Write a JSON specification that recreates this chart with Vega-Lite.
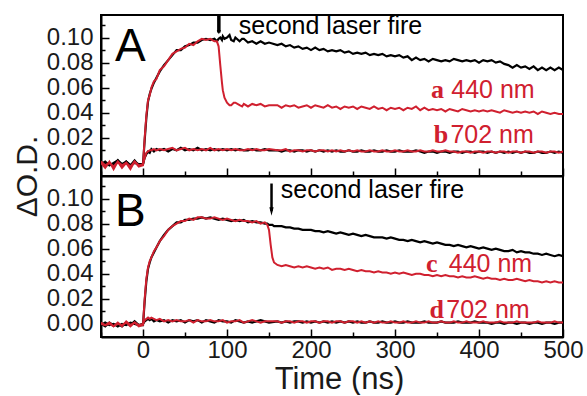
{
  "$schema": "https://vega.github.io/schema/vega-lite/v6.json",
  "padding": {"left": 11, "top": 12, "right": 0, "bottom": 0},
  "background": "white",
  "spacing": 0,
  "bounds": "flush",
  "config": {
    "view": {"stroke": "black", "strokeWidth": 2},
    "font": "Liberation Sans",
    "axis": {"domainColor": "black", "domainWidth": 2, "tickColor": "black", "tickWidth": 1.5, "labelFont": "Liberation Sans", "labelFontSize": 24, "labelColor": "#1a1a1a", "titleFont": "Liberation Sans", "titleFontSize": 30, "titleFontWeight": "normal", "titleColor": "#1a1a1a", "grid": false}
  },
  "datasets": {
    "traces": [
      {"t": -50, "a1": 0.001, "a2": 0.000, "a3": -0.001, "a4": 0.001, "b1": 0.000, "b2": 0.001, "b3": -0.001, "b4": 0.000},
      {"t": -45, "a1": -0.003, "a2": -0.004, "a3": 0.001, "a4": -0.002, "b1": -0.002, "b2": -0.001, "b3": 0.001, "b4": -0.001},
      {"t": -40, "a1": 0.000, "a2": 0.001, "a3": -0.002, "a4": 0.000, "b1": 0.001, "b2": 0.000, "b3": -0.001, "b4": 0.001},
      {"t": -35, "a1": -0.002, "a2": -0.005, "a3": 0.000, "a4": -0.003, "b1": -0.001, "b2": -0.002, "b3": 0.000, "b4": -0.002},
      {"t": -30, "a1": 0.002, "a2": 0.001, "a3": 0.002, "a4": 0.001, "b1": 0.000, "b2": 0.001, "b3": -0.002, "b4": 0.000},
      {"t": -25, "a1": -0.003, "a2": -0.004, "a3": -0.001, "a4": -0.002, "b1": -0.002, "b2": -0.002, "b3": 0.000, "b4": -0.001},
      {"t": -20, "a1": 0.001, "a2": 0.000, "a3": 0.001, "a4": 0.000, "b1": 0.001, "b2": 0.002, "b3": -0.001, "b4": 0.001},
      {"t": -15, "a1": -0.002, "a2": -0.005, "a3": -0.002, "a4": -0.003, "b1": -0.001, "b2": -0.001, "b3": 0.001, "b4": -0.002},
      {"t": -10, "a1": 0.002, "a2": 0.001, "a3": 0.000, "a4": 0.001, "b1": 0.002, "b2": 0.001, "b3": 0.000, "b4": 0.001},
      {"t": -5, "a1": -0.002, "a2": -0.003, "a3": -0.001, "a4": -0.002, "b1": -0.001, "b2": -0.002, "b3": -0.001, "b4": -0.001},
      {"t": 0, "a1": -0.001, "a2": -0.002, "a3": -0.001, "a4": -0.001, "b1": -0.001, "b2": -0.001, "b3": 0.000, "b4": 0.000},
      {"t": 2, "a1": 0.018, "a2": 0.020, "a3": 0.004, "a4": 0.004, "b1": 0.018, "b2": 0.020, "b3": 0.002, "b4": 0.003},
      {"t": 4, "a1": 0.036, "a2": 0.038, "a3": 0.007, "a4": 0.008, "b1": 0.034, "b2": 0.036, "b3": 0.003, "b4": 0.004},
      {"t": 6, "a1": 0.049, "a2": 0.050, "a3": 0.009, "a4": 0.009, "b1": 0.044, "b2": 0.045, "b3": 0.004, "b4": 0.005},
      {"t": 8, "a1": 0.055, "a2": 0.054, "a3": 0.008, "a4": 0.010, "b1": 0.049, "b2": 0.050, "b3": 0.003, "b4": 0.004},
      {"t": 10, "a1": 0.059, "a2": 0.060, "a3": 0.011, "a4": 0.010, "b1": 0.053, "b2": 0.053, "b3": 0.004, "b4": 0.005},
      {"t": 13, "a1": 0.064, "a2": 0.065, "a3": 0.009, "a4": 0.011, "b1": 0.057, "b2": 0.058, "b3": 0.002, "b4": 0.004},
      {"t": 16, "a1": 0.068, "a2": 0.067, "a3": 0.011, "a4": 0.010, "b1": 0.061, "b2": 0.061, "b3": 0.003, "b4": 0.003},
      {"t": 20, "a1": 0.073, "a2": 0.074, "a3": 0.010, "a4": 0.011, "b1": 0.066, "b2": 0.066, "b3": 0.002, "b4": 0.004},
      {"t": 25, "a1": 0.078, "a2": 0.077, "a3": 0.011, "a4": 0.010, "b1": 0.071, "b2": 0.070, "b3": 0.003, "b4": 0.002},
      {"t": 30, "a1": 0.082, "a2": 0.082, "a3": 0.009, "a4": 0.011, "b1": 0.075, "b2": 0.075, "b3": 0.001, "b4": 0.003},
      {"t": 35, "a1": 0.086, "a2": 0.087, "a3": 0.011, "a4": 0.012, "b1": 0.078, "b2": 0.078, "b3": 0.003, "b4": 0.002},
      {"t": 40, "a1": 0.090, "a2": 0.089, "a3": 0.010, "a4": 0.010, "b1": 0.081, "b2": 0.080, "b3": 0.002, "b4": 0.003},
      {"t": 45, "a1": 0.090, "a2": 0.091, "a3": 0.012, "a4": 0.011, "b1": 0.081, "b2": 0.082, "b3": 0.003, "b4": 0.002},
      {"t": 50, "a1": 0.093, "a2": 0.092, "a3": 0.010, "a4": 0.012, "b1": 0.083, "b2": 0.082, "b3": 0.001, "b4": 0.002},
      {"t": 55, "a1": 0.094, "a2": 0.095, "a3": 0.011, "a4": 0.010, "b1": 0.083, "b2": 0.084, "b3": 0.003, "b4": 0.003},
      {"t": 60, "a1": 0.096, "a2": 0.094, "a3": 0.010, "a4": 0.011, "b1": 0.084, "b2": 0.083, "b3": 0.002, "b4": 0.001},
      {"t": 65, "a1": 0.096, "a2": 0.097, "a3": 0.012, "a4": 0.010, "b1": 0.084, "b2": 0.085, "b3": 0.003, "b4": 0.003},
      {"t": 70, "a1": 0.098, "a2": 0.099, "a3": 0.010, "a4": 0.011, "b1": 0.085, "b2": 0.085, "b3": 0.001, "b4": 0.002},
      {"t": 75, "a1": 0.099, "a2": 0.098, "a3": 0.011, "a4": 0.010, "b1": 0.084, "b2": 0.084, "b3": 0.003, "b4": 0.002},
      {"t": 80, "a1": 0.098, "a2": 0.099, "a3": 0.010, "a4": 0.012, "b1": 0.085, "b2": 0.084, "b3": 0.002, "b4": 0.003},
      {"t": 85, "a1": 0.099, "a2": 0.097, "a3": 0.011, "a4": 0.010, "b1": 0.084, "b2": 0.085, "b3": 0.001, "b4": 0.002},
      {"t": 88, "a1": 0.097, "a2": 0.097},
      {"t": 90, "a1": 0.099, "a2": 0.093, "a3": 0.010, "a4": 0.011, "b1": 0.083, "b2": 0.084, "b3": 0.003, "b4": 0.002},
      {"t": 92, "a1": 0.100, "a2": 0.078},
      {"t": 94, "a1": 0.098, "a2": 0.064},
      {"t": 95, "a1": 0.101, "a2": 0.058, "a3": 0.011, "a4": 0.010, "b1": 0.084, "b2": 0.083, "b3": 0.002, "b4": 0.003},
      {"t": 97, "a1": 0.099, "a2": 0.052},
      {"t": 100, "a1": 0.100, "a2": 0.048, "a3": 0.010, "a4": 0.011, "b1": 0.083, "b2": 0.084, "b3": 0.002, "b4": 0.001},
      {"t": 103, "a1": 0.102, "a2": 0.046},
      {"t": 105, "a1": 0.098, "a2": 0.046, "a3": 0.011, "a4": 0.010, "b1": 0.082, "b2": 0.083, "b3": 0.001, "b4": 0.002},
      {"t": 108, "a1": 0.097, "a2": 0.048},
      {"t": 110, "a1": 0.100, "a2": 0.048, "a3": 0.010, "a4": 0.011, "b1": 0.083, "b2": 0.082, "b3": 0.003, "b4": 0.002},
      {"t": 115, "a1": 0.097, "a2": 0.046, "a3": 0.011, "a4": 0.010, "b1": 0.082, "b2": 0.083, "b3": 0.002, "b4": 0.003},
      {"t": 118, "a1": 0.099, "a2": 0.045},
      {"t": 120, "a1": 0.099, "a2": 0.047, "a3": 0.010, "a4": 0.010, "b1": 0.083, "b2": 0.082, "b3": 0.001, "b4": 0.001},
      {"t": 125, "a1": 0.096, "a2": 0.045, "a3": 0.010, "a4": 0.011, "b1": 0.081, "b2": 0.082, "b3": 0.002, "b4": 0.002},
      {"t": 130, "a1": 0.097, "a2": 0.047, "a3": 0.011, "a4": 0.010, "b1": 0.082, "b2": 0.081, "b3": 0.001, "b4": 0.003},
      {"t": 135, "a1": 0.095, "a2": 0.046, "a3": 0.010, "a4": 0.011, "b1": 0.081, "b2": 0.082, "b3": 0.002, "b4": 0.002},
      {"t": 140, "a1": 0.097, "a2": 0.047, "a3": 0.010, "a4": 0.010, "b1": 0.081, "b2": 0.080, "b3": 0.003, "b4": 0.001},
      {"t": 145, "a1": 0.095, "a2": 0.045, "a3": 0.011, "a4": 0.010, "b1": 0.080, "b2": 0.081, "b3": 0.002, "b4": 0.002},
      {"t": 148, "b1": 0.080, "b2": 0.079},
      {"t": 150, "a1": 0.096, "a2": 0.046, "a3": 0.010, "a4": 0.011, "b1": 0.079, "b2": 0.075, "b3": 0.001, "b4": 0.002},
      {"t": 152, "b1": 0.079, "b2": 0.063},
      {"t": 154, "b1": 0.079, "b2": 0.053},
      {"t": 156, "b1": 0.078, "b2": 0.049},
      {"t": 160, "a1": 0.094, "a2": 0.046, "a3": 0.010, "a4": 0.010, "b1": 0.078, "b2": 0.047, "b3": 0.002, "b4": 0.002},
      {"t": 165, "a1": 0.095, "a2": 0.044, "a3": 0.009, "a4": 0.010, "b1": 0.078, "b2": 0.046, "b3": 0.001, "b4": 0.001},
      {"t": 170, "a1": 0.093, "a2": 0.046, "a3": 0.010, "a4": 0.011, "b1": 0.077, "b2": 0.047, "b3": 0.002, "b4": 0.002},
      {"t": 175, "a1": 0.094, "a2": 0.045, "a3": 0.010, "a4": 0.009, "b1": 0.077, "b2": 0.046, "b3": 0.001, "b4": 0.002},
      {"t": 180, "a1": 0.092, "a2": 0.046, "a3": 0.009, "a4": 0.010, "b1": 0.076, "b2": 0.045, "b3": 0.002, "b4": 0.001},
      {"t": 185, "a1": 0.093, "a2": 0.044, "a3": 0.010, "a4": 0.010, "b1": 0.076, "b2": 0.046, "b3": 0.002, "b4": 0.002},
      {"t": 190, "a1": 0.091, "a2": 0.045, "a3": 0.010, "a4": 0.009, "b1": 0.075, "b2": 0.045, "b3": 0.001, "b4": 0.002},
      {"t": 195, "a1": 0.092, "a2": 0.046, "a3": 0.009, "a4": 0.010, "b1": 0.075, "b2": 0.046, "b3": 0.002, "b4": 0.001},
      {"t": 200, "a1": 0.090, "a2": 0.044, "a3": 0.010, "a4": 0.010, "b1": 0.075, "b2": 0.045, "b3": 0.001, "b4": 0.002},
      {"t": 205, "a1": 0.092, "a2": 0.046, "a3": 0.009, "a4": 0.009, "b1": 0.074, "b2": 0.044, "b3": 0.002, "b4": 0.002},
      {"t": 210, "a1": 0.090, "a2": 0.045, "a3": 0.010, "a4": 0.010, "b1": 0.074, "b2": 0.045, "b3": 0.001, "b4": 0.001},
      {"t": 215, "a1": 0.091, "a2": 0.044, "a3": 0.009, "a4": 0.010, "b1": 0.073, "b2": 0.044, "b3": 0.002, "b4": 0.002},
      {"t": 220, "a1": 0.089, "a2": 0.046, "a3": 0.010, "a4": 0.009, "b1": 0.074, "b2": 0.045, "b3": 0.001, "b4": 0.002},
      {"t": 225, "a1": 0.090, "a2": 0.044, "a3": 0.009, "a4": 0.010, "b1": 0.073, "b2": 0.043, "b3": 0.002, "b4": 0.001},
      {"t": 230, "a1": 0.089, "a2": 0.045, "a3": 0.010, "a4": 0.009, "b1": 0.072, "b2": 0.044, "b3": 0.001, "b4": 0.002},
      {"t": 235, "a1": 0.090, "a2": 0.043, "a3": 0.009, "a4": 0.010, "b1": 0.073, "b2": 0.044, "b3": 0.002, "b4": 0.002},
      {"t": 240, "a1": 0.088, "a2": 0.045, "a3": 0.009, "a4": 0.009, "b1": 0.072, "b2": 0.043, "b3": 0.001, "b4": 0.001},
      {"t": 245, "a1": 0.089, "a2": 0.044, "a3": 0.010, "a4": 0.010, "b1": 0.071, "b2": 0.044, "b3": 0.002, "b4": 0.002},
      {"t": 250, "a1": 0.087, "a2": 0.045, "a3": 0.009, "a4": 0.009, "b1": 0.072, "b2": 0.043, "b3": 0.001, "b4": 0.002},
      {"t": 255, "a1": 0.088, "a2": 0.043, "a3": 0.009, "a4": 0.010, "b1": 0.071, "b2": 0.042, "b3": 0.002, "b4": 0.001},
      {"t": 260, "a1": 0.087, "a2": 0.045, "a3": 0.010, "a4": 0.009, "b1": 0.070, "b2": 0.043, "b3": 0.001, "b4": 0.002},
      {"t": 265, "a1": 0.088, "a2": 0.044, "a3": 0.009, "a4": 0.009, "b1": 0.071, "b2": 0.042, "b3": 0.001, "b4": 0.001},
      {"t": 270, "a1": 0.086, "a2": 0.043, "a3": 0.009, "a4": 0.010, "b1": 0.070, "b2": 0.042, "b3": 0.002, "b4": 0.002},
      {"t": 275, "a1": 0.087, "a2": 0.045, "a3": 0.010, "a4": 0.009, "b1": 0.069, "b2": 0.041, "b3": 0.001, "b4": 0.001},
      {"t": 280, "a1": 0.086, "a2": 0.043, "a3": 0.009, "a4": 0.009, "b1": 0.069, "b2": 0.042, "b3": 0.001, "b4": 0.002},
      {"t": 285, "a1": 0.087, "a2": 0.044, "a3": 0.009, "a4": 0.010, "b1": 0.069, "b2": 0.041, "b3": 0.002, "b4": 0.001},
      {"t": 290, "a1": 0.085, "a2": 0.042, "a3": 0.010, "a4": 0.009, "b1": 0.068, "b2": 0.041, "b3": 0.001, "b4": 0.001},
      {"t": 295, "a1": 0.086, "a2": 0.044, "a3": 0.009, "a4": 0.009, "b1": 0.069, "b2": 0.040, "b3": 0.001, "b4": 0.002},
      {"t": 300, "a1": 0.085, "a2": 0.043, "a3": 0.009, "a4": 0.010, "b1": 0.068, "b2": 0.041, "b3": 0.002, "b4": 0.001},
      {"t": 305, "a1": 0.086, "a2": 0.044, "a3": 0.010, "a4": 0.009, "b1": 0.067, "b2": 0.040, "b3": 0.001, "b4": 0.001},
      {"t": 310, "a1": 0.084, "a2": 0.042, "a3": 0.009, "a4": 0.009, "b1": 0.067, "b2": 0.041, "b3": 0.001, "b4": 0.002},
      {"t": 315, "a1": 0.085, "a2": 0.044, "a3": 0.009, "a4": 0.010, "b1": 0.066, "b2": 0.040, "b3": 0.002, "b4": 0.001},
      {"t": 320, "a1": 0.082, "a2": 0.043, "a3": 0.009, "a4": 0.009, "b1": 0.067, "b2": 0.039, "b3": 0.001, "b4": 0.001},
      {"t": 325, "a1": 0.084, "a2": 0.045, "a3": 0.010, "a4": 0.009, "b1": 0.066, "b2": 0.040, "b3": 0.001, "b4": 0.002},
      {"t": 330, "a1": 0.082, "a2": 0.042, "a3": 0.009, "a4": 0.010, "b1": 0.065, "b2": 0.040, "b3": 0.001, "b4": 0.001},
      {"t": 335, "a1": 0.083, "a2": 0.044, "a3": 0.008, "a4": 0.009, "b1": 0.066, "b2": 0.039, "b3": 0.002, "b4": 0.001},
      {"t": 340, "a1": 0.081, "a2": 0.042, "a3": 0.009, "a4": 0.009, "b1": 0.065, "b2": 0.039, "b3": 0.001, "b4": 0.002},
      {"t": 345, "a1": 0.083, "a2": 0.043, "a3": 0.009, "a4": 0.010, "b1": 0.064, "b2": 0.038, "b3": 0.001, "b4": 0.001},
      {"t": 350, "a1": 0.082, "a2": 0.042, "a3": 0.008, "a4": 0.009, "b1": 0.065, "b2": 0.039, "b3": 0.001, "b4": 0.001},
      {"t": 355, "a1": 0.081, "a2": 0.043, "a3": 0.009, "a4": 0.009, "b1": 0.064, "b2": 0.038, "b3": 0.002, "b4": 0.002},
      {"t": 360, "a1": 0.082, "a2": 0.041, "a3": 0.009, "a4": 0.010, "b1": 0.063, "b2": 0.039, "b3": 0.001, "b4": 0.001},
      {"t": 365, "a1": 0.081, "a2": 0.043, "a3": 0.008, "a4": 0.009, "b1": 0.063, "b2": 0.038, "b3": 0.001, "b4": 0.001},
      {"t": 370, "a1": 0.083, "a2": 0.042, "a3": 0.009, "a4": 0.009, "b1": 0.062, "b2": 0.038, "b3": 0.001, "b4": 0.002},
      {"t": 375, "a1": 0.082, "a2": 0.041, "a3": 0.009, "a4": 0.008, "b1": 0.063, "b2": 0.037, "b3": 0.002, "b4": 0.001},
      {"t": 380, "a1": 0.081, "a2": 0.043, "a3": 0.008, "a4": 0.009, "b1": 0.062, "b2": 0.038, "b3": 0.001, "b4": 0.001},
      {"t": 385, "a1": 0.082, "a2": 0.042, "a3": 0.009, "a4": 0.009, "b1": 0.061, "b2": 0.037, "b3": 0.001, "b4": 0.002},
      {"t": 390, "a1": 0.081, "a2": 0.041, "a3": 0.009, "a4": 0.008, "b1": 0.062, "b2": 0.037, "b3": 0.001, "b4": 0.001},
      {"t": 395, "a1": 0.082, "a2": 0.042, "a3": 0.008, "a4": 0.009, "b1": 0.061, "b2": 0.038, "b3": 0.002, "b4": 0.001},
      {"t": 400, "a1": 0.080, "a2": 0.041, "a3": 0.009, "a4": 0.009, "b1": 0.060, "b2": 0.037, "b3": 0.001, "b4": 0.001},
      {"t": 405, "a1": 0.082, "a2": 0.042, "a3": 0.009, "a4": 0.008, "b1": 0.061, "b2": 0.036, "b3": 0.001, "b4": 0.002},
      {"t": 410, "a1": 0.081, "a2": 0.041, "a3": 0.008, "a4": 0.009, "b1": 0.060, "b2": 0.037, "b3": 0.001, "b4": 0.001},
      {"t": 415, "a1": 0.082, "a2": 0.042, "a3": 0.009, "a4": 0.009, "b1": 0.059, "b2": 0.036, "b3": 0.000, "b4": 0.001},
      {"t": 420, "a1": 0.080, "a2": 0.041, "a3": 0.008, "a4": 0.008, "b1": 0.060, "b2": 0.036, "b3": 0.001, "b4": 0.001},
      {"t": 425, "a1": 0.081, "a2": 0.040, "a3": 0.009, "a4": 0.009, "b1": 0.059, "b2": 0.035, "b3": 0.001, "b4": 0.002},
      {"t": 430, "a1": 0.079, "a2": 0.042, "a3": 0.008, "a4": 0.009, "b1": 0.058, "b2": 0.036, "b3": 0.000, "b4": 0.001},
      {"t": 435, "a1": 0.078, "a2": 0.041, "a3": 0.009, "a4": 0.008, "b1": 0.058, "b2": 0.035, "b3": 0.001, "b4": 0.001},
      {"t": 440, "a1": 0.076, "a2": 0.040, "a3": 0.008, "a4": 0.009, "b1": 0.059, "b2": 0.035, "b3": 0.001, "b4": 0.001},
      {"t": 445, "a1": 0.078, "a2": 0.041, "a3": 0.009, "a4": 0.009, "b1": 0.057, "b2": 0.036, "b3": 0.000, "b4": 0.002},
      {"t": 450, "a1": 0.076, "a2": 0.040, "a3": 0.008, "a4": 0.008, "b1": 0.058, "b2": 0.035, "b3": 0.001, "b4": 0.001},
      {"t": 455, "a1": 0.077, "a2": 0.041, "a3": 0.009, "a4": 0.009, "b1": 0.057, "b2": 0.034, "b3": 0.001, "b4": 0.001},
      {"t": 460, "a1": 0.075, "a2": 0.040, "a3": 0.008, "a4": 0.009, "b1": 0.057, "b2": 0.035, "b3": 0.000, "b4": 0.001},
      {"t": 465, "a1": 0.077, "a2": 0.041, "a3": 0.008, "a4": 0.008, "b1": 0.056, "b2": 0.034, "b3": 0.001, "b4": 0.001},
      {"t": 470, "a1": 0.074, "a2": 0.039, "a3": 0.009, "a4": 0.009, "b1": 0.056, "b2": 0.034, "b3": 0.001, "b4": 0.002},
      {"t": 475, "a1": 0.076, "a2": 0.041, "a3": 0.008, "a4": 0.009, "b1": 0.055, "b2": 0.033, "b3": 0.000, "b4": 0.001},
      {"t": 480, "a1": 0.074, "a2": 0.040, "a3": 0.008, "a4": 0.008, "b1": 0.056, "b2": 0.034, "b3": 0.001, "b4": 0.001},
      {"t": 485, "a1": 0.076, "a2": 0.039, "a3": 0.009, "a4": 0.009, "b1": 0.055, "b2": 0.033, "b3": 0.001, "b4": 0.001},
      {"t": 490, "a1": 0.074, "a2": 0.040, "a3": 0.008, "a4": 0.009, "b1": 0.054, "b2": 0.034, "b3": 0.000, "b4": 0.002},
      {"t": 495, "a1": 0.076, "a2": 0.039, "a3": 0.009, "a4": 0.008, "b1": 0.055, "b2": 0.033, "b3": 0.001, "b4": 0.001},
      {"t": 500, "a1": 0.074, "a2": 0.039, "a3": 0.008, "a4": 0.009, "b1": 0.054, "b2": 0.033, "b3": 0.001, "b4": 0.001}
    ],
    "panelLetters": [
      {"panel": "A", "t": -15, "y": 0.0816, "label": "A"},
      {"panel": "B", "t": -15, "y": 0.078, "label": "B"}
    ],
    "fireNotes": [
      {"panel": "A", "t": 114, "y": 0.1032, "label": "second laser fire"},
      {"panel": "B", "t": 164, "y": 0.1008, "label": "second laser fire"}
    ],
    "arrows": [
      {"panel": "A", "t": 90.3, "y": 0.118, "y2": 0.104, "head": 0.1044},
      {"panel": "B", "t": 153, "y": 0.112, "y2": 0.09, "head": 0.0896}
    ],
    "waveLabels": [
      {"panel": "A", "t": 367, "y": 0.052, "label": "440 nm", "tag": "a", "tt": 343},
      {"panel": "A", "t": 366, "y": 0.016, "label": "702 nm", "tag": "b", "tt": 346},
      {"panel": "B", "t": 364, "y": 0.041, "label": "440 nm", "tag": "c", "tt": 337},
      {"panel": "B", "t": 361, "y": 0.005, "label": "702 nm", "tag": "d", "tt": 341}
    ]
  },
  "vconcat": [
    {
      "width": 462, "height": 161,
      "encoding": {
        "x": {"field": "t", "type": "quantitative", "scale": {"domain": [-50, 500], "nice": false, "zero": false},
          "axis": {"values": [-50, 0, 50, 100, 150, 200, 250, 300, 350, 400, 450, 500], "labels": false, "title": null,
            "tickSize": {"condition": {"test": "datum.value % 100 == 0", "value": -8}, "value": -5}}},
        "y": {"field": "value", "type": "quantitative", "scale": {"domain": [-0.0105, 0.118], "nice": false, "zero": false},
          "axis": {"values": [0, 0.01, 0.02, 0.03, 0.04, 0.05, 0.06, 0.07, 0.08, 0.09, 0.1, 0.11], "format": ".2f",
            "labelExpr": "indexof(['0.00','0.02','0.04','0.06','0.08','0.10'], datum.label) >= 0 ? datum.label : ''",
            "tickSize": {"condition": {"test": "indexof(['0.00','0.02','0.04','0.06','0.08','0.10'], format(datum.value, '.2f')) >= 0", "value": -8}, "value": -4},
            "labelPadding": 16, "title": "ΔO.D.", "titleY": 161, "titlePadding": 4}}
      },
      "layer": [
        {"data": {"name": "traces"}, "transform": [{"fold": ["a1", "a3"]}, {"filter": "isValid(datum.value)"}],
         "mark": {"type": "line", "color": "black", "strokeWidth": 2.2, "clip": true},
         "encoding": {"detail": {"field": "key"}}},
        {"data": {"name": "traces"}, "transform": [{"fold": ["a2", "a4"]}, {"filter": "isValid(datum.value)"}],
         "mark": {"type": "line", "color": "#d0202f", "strokeWidth": 2, "clip": true},
         "encoding": {"detail": {"field": "key"}}},
        {"data": {"name": "panelLetters"}, "transform": [{"filter": "datum.panel == 'A'"}],
         "mark": {"type": "text", "fontSize": 46, "align": "center", "baseline": "alphabetic", "color": "black"},
         "encoding": {"y": {"field": "y", "type": "quantitative"}, "text": {"field": "label"}}},
        {"data": {"name": "fireNotes"}, "transform": [{"filter": "datum.panel == 'A'"}],
         "mark": {"type": "text", "fontSize": 25, "align": "left", "baseline": "alphabetic", "color": "black"},
         "encoding": {"y": {"field": "y", "type": "quantitative"}, "text": {"field": "label"}}},
        {"data": {"name": "arrows"}, "transform": [{"filter": "datum.panel == 'A'"}],
         "mark": {"type": "rule", "color": "black", "strokeWidth": 3.5},
         "encoding": {"y": {"field": "y", "type": "quantitative"}, "y2": {"field": "y2"}}},
        {"data": {"name": "arrows"}, "transform": [{"filter": "datum.panel == 'A'"}],
         "mark": {"type": "point", "filled": true, "color": "black", "opacity": 1, "shape": "M-0.5,-0.5L0.5,-0.5L0,0.5Z", "size": 70},
         "encoding": {"y": {"field": "head", "type": "quantitative"}}},
        {"data": {"name": "waveLabels"}, "transform": [{"filter": "datum.panel == 'A'"}],
         "mark": {"type": "text", "fontSize": 25, "align": "left", "baseline": "alphabetic", "color": "#d0202f"},
         "encoding": {"y": {"field": "y", "type": "quantitative"}, "text": {"field": "label"}}},
        {"data": {"name": "waveLabels"}, "transform": [{"filter": "datum.panel == 'A'"}],
         "mark": {"type": "text", "fontSize": 26, "font": "Liberation Serif", "fontWeight": "bold", "align": "left", "baseline": "alphabetic", "color": "#d0202f"},
         "encoding": {"x": {"field": "tt", "type": "quantitative"}, "y": {"field": "y", "type": "quantitative"}, "text": {"field": "tag"}}}
      ]
    },
    {
      "width": 462, "height": 161,
      "encoding": {
        "x": {"field": "t", "type": "quantitative", "scale": {"domain": [-50, 500], "nice": false, "zero": false},
          "axis": {"values": [-50, 0, 50, 100, 150, 200, 250, 300, 350, 400, 450, 500],
            "labelExpr": "datum.value % 100 == 0 ? datum.label : ''", "labelPadding": 9, "labelFlush": false,
            "tickSize": {"condition": {"test": "datum.value % 100 == 0", "value": -8}, "value": -5},
            "title": "Time (ns)", "titleFontSize": 31, "titleX": 238, "titlePadding": 2}},
        "y": {"field": "value", "type": "quantitative", "scale": {"domain": [-0.0105, 0.118], "nice": false, "zero": false},
          "axis": {"values": [0, 0.01, 0.02, 0.03, 0.04, 0.05, 0.06, 0.07, 0.08, 0.09, 0.1, 0.11], "format": ".2f",
            "labelExpr": "indexof(['0.00','0.02','0.04','0.06','0.08','0.10'], datum.label) >= 0 ? datum.label : ''",
            "tickSize": {"condition": {"test": "indexof(['0.00','0.02','0.04','0.06','0.08','0.10'], format(datum.value, '.2f')) >= 0", "value": -8}, "value": -4},
            "labelPadding": 16, "title": null}}
      },
      "layer": [
        {"data": {"name": "traces"}, "transform": [{"fold": ["b1", "b3"]}, {"filter": "isValid(datum.value)"}],
         "mark": {"type": "line", "color": "black", "strokeWidth": 2.2, "clip": true},
         "encoding": {"detail": {"field": "key"}}},
        {"data": {"name": "traces"}, "transform": [{"fold": ["b2", "b4"]}, {"filter": "isValid(datum.value)"}],
         "mark": {"type": "line", "color": "#d0202f", "strokeWidth": 2, "clip": true},
         "encoding": {"detail": {"field": "key"}}},
        {"data": {"name": "panelLetters"}, "transform": [{"filter": "datum.panel == 'B'"}],
         "mark": {"type": "text", "fontSize": 46, "align": "center", "baseline": "alphabetic", "color": "black"},
         "encoding": {"y": {"field": "y", "type": "quantitative"}, "text": {"field": "label"}}},
        {"data": {"name": "fireNotes"}, "transform": [{"filter": "datum.panel == 'B'"}],
         "mark": {"type": "text", "fontSize": 25, "align": "left", "baseline": "alphabetic", "color": "black"},
         "encoding": {"y": {"field": "y", "type": "quantitative"}, "text": {"field": "label"}}},
        {"data": {"name": "arrows"}, "transform": [{"filter": "datum.panel == 'B'"}],
         "mark": {"type": "rule", "color": "black", "strokeWidth": 2.5},
         "encoding": {"y": {"field": "y", "type": "quantitative"}, "y2": {"field": "y2"}}},
        {"data": {"name": "arrows"}, "transform": [{"filter": "datum.panel == 'B'"}],
         "mark": {"type": "point", "filled": true, "color": "black", "opacity": 1, "shape": "M-0.25,-0.5L0.25,-0.5L0,0.5Z", "size": 289},
         "encoding": {"y": {"field": "head", "type": "quantitative"}}},
        {"data": {"name": "waveLabels"}, "transform": [{"filter": "datum.panel == 'B'"}],
         "mark": {"type": "text", "fontSize": 25, "align": "left", "baseline": "alphabetic", "color": "#d0202f"},
         "encoding": {"y": {"field": "y", "type": "quantitative"}, "text": {"field": "label"}}},
        {"data": {"name": "waveLabels"}, "transform": [{"filter": "datum.panel == 'B'"}],
         "mark": {"type": "text", "fontSize": 26, "font": "Liberation Serif", "fontWeight": "bold", "align": "left", "baseline": "alphabetic", "color": "#d0202f"},
         "encoding": {"x": {"field": "tt", "type": "quantitative"}, "y": {"field": "y", "type": "quantitative"}, "text": {"field": "tag"}}}
      ]
    }
  ]
}
